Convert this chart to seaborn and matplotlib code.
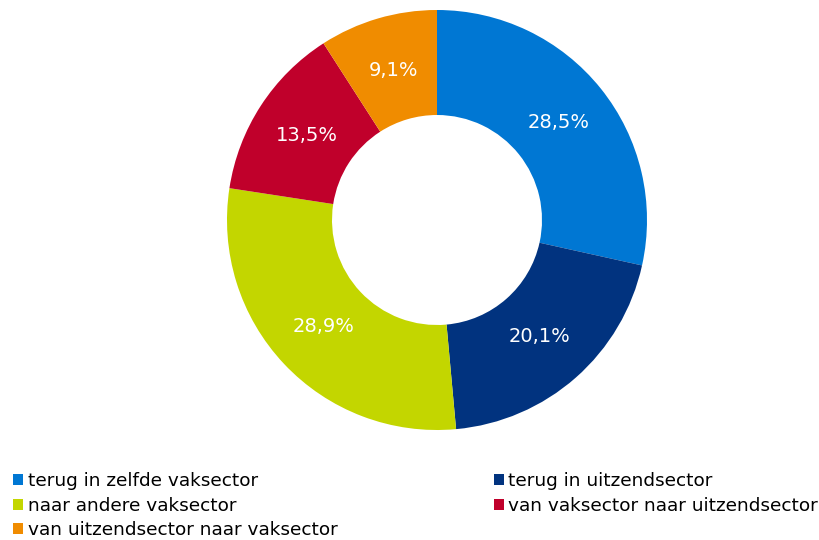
import matplotlib
matplotlib.use('Agg')
import matplotlib.pyplot as plt
import seaborn as sns

# data
categories = ['terug in zelfde vaksector', 'terug in uitzendsector', 'naar andere vaksector',
              'van vaksector naar uitzendsector', 'van uitzendsector naar vaksector']
shares = [28.5, 20.1, 28.9, 13.5, 9.1]
colors = ['#0077D3', '#01337F', '#C3D600', '#C0002B', '#F08C00']

sns.set_theme(style="white")
plt.rcParams['font.family'] = ['DejaVu Sans']

fig = plt.figure(figsize=(8.19, 5.4), dpi=100)
ax = fig.add_axes([227 / 819, 110 / 540, 420 / 819, 420 / 540])

wedges, texts, autotexts = ax.pie(
    shares, colors=colors, startangle=90, counterclock=False,
    wedgeprops=dict(width=0.5, linewidth=0),
    autopct=lambda p: f'{p:.1f}%'.replace('.', ','),
    pctdistance=0.74, textprops=dict(color='white', fontsize=14))
ax.set_xlim(-1, 1)
ax.set_ylim(-1, 1)
ax.set_aspect('equal')

# legend: column-major fill -> reorder to read row by row
order = [0, 2, 4, 1, 3]
leg = fig.legend([wedges[i] for i in order], [categories[i] for i in order],
                 loc='upper left', bbox_to_anchor=(0.016, 0.126), ncol=2,
                 frameon=False, fontsize=13.3, handlelength=0.55, handleheight=0.55,
                 handletextpad=0.25, labelspacing=0.36, columnspacing=8.45,
                 borderaxespad=0, borderpad=0)
for t in leg.get_texts():
    t.set_color('black')

fig.savefig('out.png', dpi=100)
